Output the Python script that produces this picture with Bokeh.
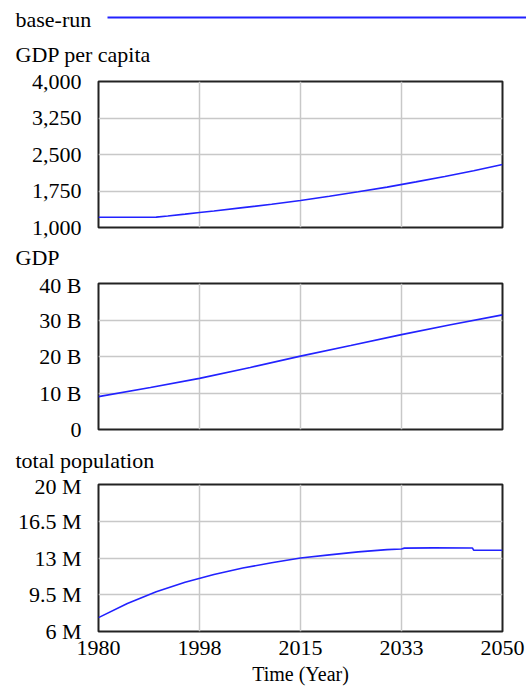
from bokeh.plotting import figure
from bokeh.models import Range1d, FixedTicker, Label, Legend, LegendItem
from bokeh.layouts import column
from bokeh.embed import file_html
from bokeh.resources import INLINE

# ---------------- data ----------------
series_name = "base-run"

years_gdppc = [1980, 1985, 1989, 1990, 1992, 1995, 1997.5, 2000, 2005, 2010, 2015, 2020, 2025, 2030, 2035, 2040, 2045, 2050]
gdppc = [1212, 1212, 1212, 1214, 1236, 1274, 1308, 1340, 1408, 1478, 1555, 1642, 1733, 1830, 1937, 2049, 2167, 2295]

years_gdp = [1980, 1989, 1997.5, 2006.3, 2015, 2023.7, 2032.5, 2041, 2050]
gdp = [9.0e9, 11.5e9, 14.0e9, 17.0e9, 20.1e9, 23.0e9, 26.0e9, 28.7e9, 31.4e9]

years_pop = [1980, 1985, 1990, 1995, 2000, 2005, 2010, 2015, 2020, 2025, 2030, 2032.5, 2033, 2038, 2044.8, 2045.0, 2050]
pop = [7.32e6, 8.67e6, 9.78e6, 10.69e6, 11.43e6, 12.04e6, 12.55e6, 13.0e6, 13.3e6, 13.58e6, 13.8e6, 13.86e6,
       13.94e6, 13.96e6, 13.95e6, 13.74e6, 13.74e6]

x_ticks = [1980, 1997.5, 2015, 2032.5, 2050]
x_tick_labels = ["1980", "1998", "2015", "2033", "2050"]
x_title = "Time (Year)"

gdppc_title = "GDP per capita"
gdppc_ticks = [1000, 1750, 2500, 3250, 4000]
gdppc_tick_labels = ["1,000", "1,750", "2,500", "3,250", "4,000"]

gdp_title = "GDP"
gdp_ticks = [0, 10e9, 20e9, 30e9, 40e9]
gdp_tick_labels = ["0", "10 B", "20 B", "30 B", "40 B"]

pop_title = "total population"
pop_ticks = [6e6, 9.5e6, 13e6, 16.5e6, 20e6]
pop_tick_labels = ["6 M", "9.5 M", "13 M", "16.5 M", "20 M"]

# ---------------- style ----------------
FONT = "Liberation Serif"
FS = "22px"
LINE_COLOR = "#2222ff"
GRID_COLOR = "#c8c8c8"
FRAME_COLOR = "#222222"
LEFT, FRAME_W, RIGHT = 98, 404, 26
W = LEFT + FRAME_W + RIGHT
TEXT_SHIFT = 7  # label baseline correction (px, upward)

x_range = Range1d(1980, 2050)


def make_panel(yticks, ylabels, xs, ys, top, fh, bottom, show_x):
    p = figure(frame_width=FRAME_W, frame_height=fh, x_range=x_range,
               y_range=Range1d(yticks[0], yticks[-1]),
               output_backend="svg", toolbar_location=None,
               min_border_left=LEFT, min_border_right=RIGHT,
               min_border_top=top, min_border_bottom=bottom,
               background_fill_color="white", border_fill_color="white")
    p.outline_line_color = FRAME_COLOR
    p.outline_line_width = 2

    # y axis
    p.yaxis.ticker = FixedTicker(ticks=yticks)
    p.yaxis.major_label_overrides = {t: l for t, l in zip(yticks, ylabels)}
    p.yaxis.axis_line_color = None
    p.yaxis.major_tick_line_color = None
    p.yaxis.minor_tick_line_color = None
    p.yaxis.major_tick_in = 0
    p.yaxis.major_tick_out = 0
    p.yaxis.major_label_standoff = 17
    p.yaxis.major_label_text_font = FONT
    p.yaxis.major_label_text_font_size = FS
    p.yaxis.major_label_text_color = "black"

    # x axis
    p.xaxis.ticker = FixedTicker(ticks=x_ticks)
    p.xaxis.major_label_overrides = {t: l for t, l in zip(x_ticks, x_tick_labels)}
    p.xaxis.axis_line_color = None
    p.xaxis.major_tick_line_color = None
    p.xaxis.minor_tick_line_color = None
    p.xaxis.major_tick_in = 0
    p.xaxis.major_tick_out = 0
    p.xaxis.major_label_standoff = 9
    p.xaxis.major_label_text_font = FONT
    p.xaxis.major_label_text_font_size = FS
    p.xaxis.major_label_text_color = "black"
    if show_x:
        p.xaxis.axis_label = x_title
        p.xaxis.axis_label_text_font = FONT
        p.xaxis.axis_label_text_font_size = "20px"
        p.xaxis.axis_label_text_font_style = "normal"
        p.xaxis.axis_label_text_color = "black"
        p.xaxis.axis_label_standoff = 5
    else:
        p.xaxis.visible = False

    p.xgrid.ticker = FixedTicker(ticks=x_ticks)
    p.ygrid.ticker = FixedTicker(ticks=yticks)
    p.grid.grid_line_color = GRID_COLOR
    p.grid.grid_line_width = 1.5

    p.line(xs, ys, line_color=LINE_COLOR, line_width=1.6)
    return p


def make_strip(height):
    s = figure(width=W, height=height, x_range=x_range, y_range=Range1d(0, 1),
               x_axis_location=None, y_axis_location=None, min_border=0,
               output_backend="svg", toolbar_location=None,
               background_fill_color="white", border_fill_color="white")
    s.frame_align = False
    s.outline_line_color = None
    s.grid.visible = False
    return s


def add_text(s, text, x, y):
    s.add_layout(Label(x=x, y=y + TEXT_SHIFT, x_units="screen", y_units="screen", text=text,
                       text_font=FONT, text_font_size=FS, text_color="black",
                       text_baseline="alphabetic", text_align="left"))


# strip 0: legend row (series name, then its line swatch) and first panel title
S0_H = 70
s0 = make_strip(S0_H)
# the GDP per capita series lies outside this strip's y-range: only its legend swatch shows
r0 = s0.line(years_gdppc, gdppc, line_color=LINE_COLOR, line_width=1.8)
add_text(s0, series_name, 15, S0_H - 26)
legend = Legend(items=[LegendItem(label=" ", renderers=[r0])], location=(107, S0_H - 20),
                glyph_width=419, glyph_height=6, padding=0, margin=0, label_standoff=0,
                label_text_font_size="2px", background_fill_alpha=0, border_line_alpha=0)
s0.add_layout(legend, "center")
add_text(s0, gdppc_title, 15, S0_H - 61)

p1 = make_panel(gdppc_ticks, gdppc_tick_labels, years_gdppc, gdppc, 11, 146, 12, False)

S1_H = 33
s1 = make_strip(S1_H)
add_text(s1, gdp_title, 15, S1_H - 25)

p2 = make_panel(gdp_ticks, gdp_tick_labels, years_gdp, gdp, 11, 146, 12, False)

S2_H = 32
s2 = make_strip(S2_H)
add_text(s2, pop_title, 15, S2_H - 26)

p3 = make_panel(pop_ticks, pop_tick_labels, years_pop, pop, 11, 147, 59, True)

layout = column(s0, p1, s1, p2, s2, p3, spacing=0)

with open("out.html", "w") as f:
    f.write(file_html(layout, INLINE))
